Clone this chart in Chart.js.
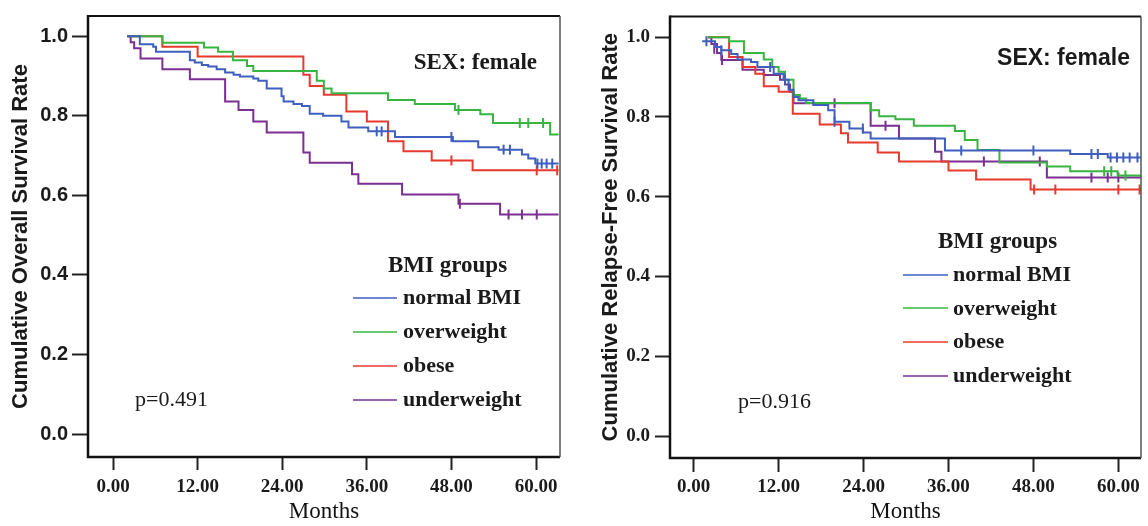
<!DOCTYPE html>
<html>
<head>
<meta charset="utf-8">
<script src="https://cdn.jsdelivr.net/npm/chart.js@4.4.0/dist/chart.umd.min.js"></script>
<style>
body{margin:0;background:#fff}
#wrap{position:relative;width:1148px;height:526px;overflow:hidden;background:#fff}
#wrap canvas{position:absolute;top:0}
.txt{position:absolute;white-space:nowrap;color:#1a1a1a;line-height:1}
.key{position:absolute;height:2px}
</style>
</head>
<body>
<div id="wrap">
<canvas id="osChart" width="575" height="526" style="left:0px"></canvas>
<canvas id="rfsChart" width="573" height="526" style="left:575px"></canvas>
</div>
<script>

const groups = ["normal BMI", "overweight", "obese", "underweight"]
const groupColors = ["#3f5fbf", "#38b540", "#e8392e", "#7b2f91"]

const monthTicks = [0, 12, 24, 36, 48, 60]
const rateTicks = [0, 0.2, 0.4, 0.6, 0.8, 1.0]

// overall survival, [month, rate]
const osNormal = [[2,1],[3.8,0.98],[5.7,0.974],[6.1,0.961],[10.9,0.94],[11.6,0.934],[12.6,0.928],[13.5,0.924],[14.7,0.917],[15.9,0.909],[17.1,0.903],[18,0.899],[19.9,0.894],[20.6,0.888],[21.8,0.869],[23.9,0.849],[24.2,0.836],[25.6,0.83],[26.8,0.825],[27.9,0.805],[29.8,0.8],[32.4,0.786],[33.4,0.771],[36.2,0.761],[40,0.747],[48.2,0.736],[51.8,0.721],[54.7,0.715],[58,0.703],[58.9,0.693],[59.9,0.68],[63.2,0.68]]
const osNormalCens = [[37.4,0.761],[38.1,0.761],[48,0.747],[55.4,0.715],[56.3,0.715],[60.2,0.68],[60.8,0.68],[61.5,0.68],[62.3,0.68]]

const osOver = [[2,1],[7,0.984],[12.9,0.972],[14.9,0.961],[17,0.94],[19,0.925],[19.9,0.913],[28.9,0.888],[29.9,0.869],[31,0.857],[39,0.84],[42.8,0.83],[48.5,0.815],[52.1,0.804],[53.9,0.782],[62,0.753],[63.2,0.753]]
const osOverCens = [[49,0.815],[57.7,0.782],[58.9,0.782],[61,0.782]]

const osObese = [[2,1],[7,0.974],[12,0.949],[27,0.903],[27.9,0.875],[29.9,0.853],[33.1,0.811],[36,0.786],[39,0.736],[41.2,0.711],[45.2,0.688],[51,0.663],[63.2,0.663]]
const osObeseCens = [[48,0.688],[60.1,0.663],[63,0.663]]

const osUnder = [[2,1],[2.5,0.985],[3,0.97],[3.9,0.944],[7,0.917],[10.9,0.892],[15.9,0.836],[17.8,0.815],[19.9,0.786],[21.8,0.758],[27,0.708],[27.9,0.682],[33.9,0.653],[34.8,0.629],[41,0.602],[49,0.579],[54.9,0.552],[63.2,0.552]]
const osUnderCens = [[49.2,0.579],[56.1,0.552],[58,0.552],[60.1,0.552]]

// relapse-free survival, [month, rate]
const rfsNormal = [[1.2,0.99],[3,0.975],[3.9,0.967],[5.3,0.958],[6.2,0.944],[8.1,0.938],[9,0.925],[11.3,0.908],[12.7,0.893],[13.4,0.868],[14.1,0.85],[14.8,0.842],[16.9,0.83],[19,0.817],[19.9,0.788],[22,0.771],[23.9,0.761],[25,0.746],[35.5,0.716],[53.2,0.707],[58.5,0.698],[63.2,0.698]]
const rfsNormalCens = [[1.8,0.99],[3.9,0.967],[10.8,0.925],[12.9,0.893],[19.9,0.788],[23.9,0.771],[37.8,0.716],[48,0.716],[56.2,0.707],[57.1,0.707],[58.9,0.698],[59.8,0.698],[60.7,0.698],[61.6,0.698],[62.7,0.698]]

const rfsOver = [[2,1],[5,0.99],[7.1,0.96],[9.9,0.944],[11.1,0.925],[12,0.913],[12.9,0.893],[14.1,0.855],[15,0.846],[15.9,0.835],[25,0.817],[26.2,0.802],[28.5,0.794],[31.1,0.778],[36.9,0.765],[38.3,0.742],[40.1,0.717],[43.2,0.686],[49.9,0.676],[53.2,0.664],[59.9,0.653],[63.2,0.653]]
const rfsOverCens = [[58,0.664],[59,0.664],[61,0.653]]

const rfsObese = [[2,1],[5,0.95],[6.9,0.925],[8.7,0.908],[9.9,0.877],[12,0.863],[14,0.808],[17.8,0.781],[20.8,0.759],[21.8,0.736],[26,0.711],[29,0.688],[36,0.666],[39.9,0.643],[47.6,0.618],[63.2,0.618]]
const rfsObeseCens = [[48.1,0.618],[51.1,0.618],[60,0.618],[63,0.618]]

const rfsUnder = [[2,1],[2.5,0.983],[3.3,0.96],[3.9,0.943],[6.9,0.918],[9.9,0.905],[12.2,0.893],[12.9,0.881],[13.6,0.863],[14.1,0.834],[25,0.778],[29,0.746],[34.1,0.713],[35,0.688],[49.9,0.648],[63.2,0.648]]
const rfsUnderCens = [[2.9,0.971],[4,0.943],[19.9,0.834],[27.1,0.778],[41,0.688],[48.9,0.688],[56.2,0.648],[58.5,0.648],[60,0.648]]

const serif = '"Liberation Serif", "Times New Roman", serif'
const sans = '"Liberation Sans", Arial, sans-serif'

function toXY(list)
{
return list.map(p => ({x:p[0], y:p[1]}))
}

function buildDatasets(curves, censors)
{
let sets = []
for (let i = 0; i < groups.length; i++)
{
sets.push({
label: groups[i],
data: toXY(curves[i]),
borderColor: groupColors[i],
borderWidth: 2,
stepped: "before",
pointRadius: 0,
fill: false
})
sets.push({
label: groups[i] + " censored",
data: toXY(censors[i]),
showLine: false,
borderColor: groupColors[i],
pointStyle: "line",
pointRotation: 90,
pointRadius: 5,
pointBorderWidth: 2,
pointBorderColor: groupColors[i]
})
}
return sets
}

const framePlugin = {
id: "frame",
afterDatasetsDraw(chart)
{
const a = chart.chartArea
const ctx = chart.ctx
ctx.save()
ctx.strokeStyle = "#111"
ctx.lineWidth = 2
ctx.beginPath()
ctx.moveTo(a.left, a.top)
ctx.lineTo(a.right, a.top)
ctx.stroke()
ctx.lineWidth = 2.5
ctx.beginPath()
ctx.moveTo(a.left, a.top - 1)
ctx.lineTo(a.left, a.bottom)
ctx.lineTo(a.right, a.bottom)
ctx.stroke()
ctx.strokeStyle = "#555"
ctx.lineWidth = 1.5
ctx.beginPath()
ctx.moveTo(a.right, a.top)
ctx.lineTo(a.right, a.bottom)
ctx.stroke()
ctx.restore()
}
}

function makeChart(id, curves, censors, o)
{
return new Chart(document.getElementById(id),
{
type: "line",
data: { datasets: buildDatasets(curves, censors) },
plugins: [framePlugin],
options:
{
responsive: false,
animation: false,
layout: { padding: { top: 14, right: o.padRight, left: 0, bottom: 0 } },
plugins: { legend: { display: false }, tooltip: { enabled: false } },
scales:
{
x:
{
type: "linear",
min: o.xMin,
max: o.xMax,
afterBuildTicks: s => { s.ticks = monthTicks.map(v => ({value: v})) },
afterFit: s => { s.height = o.xHeight },
grid: { drawOnChartArea: false, drawTicks: true, tickLength: o.xTickLen, tickWidth: 2, tickColor: "#222" },
border: { display: false },
ticks: { padding: o.xPad, autoSkip: false, maxRotation: 0, color: "#1a1a1a", font: { family: serif, size: 19, weight: "bold" }, callback: v => Number(v).toFixed(2) },
title: { display: true, text: "Months", color: "#111", font: { family: serif, size: 23 }, padding: { top: 0, bottom: 0 } }
},
y:
{
min: o.yMin,
max: o.yMax,
afterBuildTicks: s => { s.ticks = rateTicks.map(v => ({value: v})) },
afterFit: s => { s.width = o.yWidth },
grid: { drawOnChartArea: false, drawTicks: true, tickLength: o.yTickLen, tickWidth: 2, tickColor: "#222" },
border: { display: false },
ticks: { padding: o.yPad, color: "#1a1a1a", font: o.yFont, callback: v => Number(v).toFixed(1) },
title: { display: true, text: o.yTitle, color: "#1a1a1a", font: { family: sans, size: 22, weight: "bold" }, padding: { top: o.yTitlePad, bottom: 0 } }
}
}
}
})
}

makeChart("osChart", [osNormal, osOver, osObese, osUnder], [osNormalCens, osOverCens, osObeseCens, osUnderCens],
{
padRight: 15, xMin: -3.55, xMax: 63.4, yMin: -0.0576, yMax: 1.051,
xHeight: 69, xTickLen: 13, xPad: 6,
yWidth: 88, yTickLen: 16, yPad: 4, yFont: { family: sans, size: 20, weight: "bold" },
yTitle: "Cumulative Overall Survival Rate", yTitlePad: 8
})

makeChart("rfsChart", [rfsNormal, rfsOver, rfsObese, rfsUnder], [rfsNormalCens, rfsOverCens, rfsObeseCens, rfsUnderCens],
{
padRight: 1, xMin: -3.35, xMax: 63.2, yMin: -0.055, yMax: 1.052,
xHeight: 68, xTickLen: 14, xPad: 4,
yWidth: 95, yTickLen: 15, yPad: 5, yFont: { family: serif, size: 19, weight: "bold" },
yTitle: "Cumulative Relapse-Free Survival Rate", yTitlePad: 23
})

// text placed by baseline
const wrap = document.getElementById("wrap")

function addText(text, x, baseline, size, family, weight, alignRight)
{
const k = family === sans ? 0.8465 : 0.8375
let d = document.createElement("div")
d.className = "txt"
d.textContent = text
d.style.fontFamily = family
d.style.fontSize = size + "px"
d.style.fontWeight = weight
d.style.top = (baseline - k * size) + "px"
if (alignRight)
d.style.right = (1148 - x) + "px"
else
d.style.left = x + "px"
wrap.appendChild(d)
}

function addLegend(titleX, titleBase, lineX, lineW, textX, firstBase, gap, lineLift)
{
addText("BMI groups", titleX, titleBase, 23, serif, "bold", false)
for (let i = 0; i < groups.length; i++)
{
let b = firstBase + i * gap
let k = document.createElement("div")
k.className = "key"
k.style.left = lineX + "px"
k.style.width = lineW + "px"
k.style.top = (b - lineLift - 1) + "px"
k.style.background = groupColors[i]
k.style.opacity = 0.75
wrap.appendChild(k)
addText(groups[i], textX, b, 22, serif, "bold", false)
}
}

addText("SEX: female", 537, 69.5, 23, serif, "bold", true)
addText("p=0.491", 135, 406.5, 22, serif, "normal", false)
addLegend(388, 272, 353, 44, 403, 304, 34, 6)

addText("SEX: female", 1130, 65.7, 23, sans, "bold", true)
addText("p=0.916", 738, 408, 22, serif, "normal", false)
addLegend(938, 248, 903, 45, 953, 281.5, 33.7, 7)

</script>
</body>
</html>
